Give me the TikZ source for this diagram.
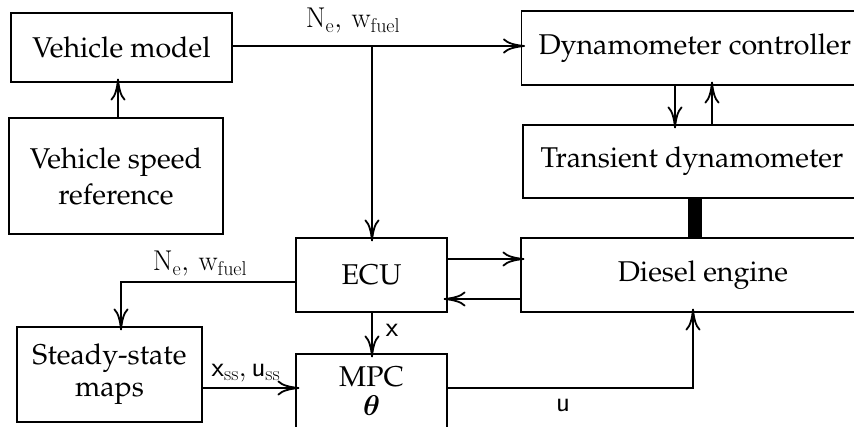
\RequirePackage{fix-cm}
\documentclass[tikz,border=0pt]{standalone}
\usepackage{amsmath,bm}
\usetikzlibrary{arrows.meta}
\IfFileExists{ot1ppl.fd}{\newcommand\mytextfont{\fontencoding{OT1}\fontfamily{ppl}\selectfont}}{\newcommand\mytextfont{}}
\begin{document}
\begin{tikzpicture}[x=1pt,y=1pt,
  every node/.style={font=\fontsize{28.6}{34}\selectfont\mytextfont},
  blk/.style={draw,line width=1.1pt,rectangle,inner sep=0pt,align=center},
  conn/.style={line width=1.1pt,-{Computer Modern Rightarrow[length=22pt,width=15pt,line width=1.8pt]},shorten >=-4pt},
  lbl/.style={inner sep=0pt}]
\clip (0,0) rectangle (854,-427);
\fill[white] (0,0) rectangle (854,-427);
% blocks
\node[blk,minimum width=221pt,minimum height=69pt] (vm) at (121.5,-47.5) {Vehicle model};
\node[blk,minimum width=214pt,minimum height=116pt] (vsr) at (116,-176) {Vehicle speed\\[2pt]reference};
\node[blk,minimum height=74pt,inner xsep=17pt,anchor=west] (dc) at (521,-48) {Dynamometer controller};
\node[blk,minimum width=338pt,minimum height=73pt] (td) at (692,-161.5) {Transient dynamometer};
\node[blk,minimum width=364pt,minimum height=74pt] (de) at (703,-275) {Diesel engine};
\node[blk,minimum width=151pt,minimum height=74pt] (ecu) at (371.5,-275) {ECU};
\node[blk,minimum width=151pt,minimum height=74pt] (mpc) at (371.5,-391) {MPC\\[-5pt]$\bm{\theta}$};
\node[blk,minimum width=185pt,minimum height=95pt] (ssm) at (109.5,-374.5) {Steady-state\\[-2pt]maps};
% helper coordinates
\coordinate (brx) at (372,-46);
\coordinate (dlx) at (675,0);
\coordinate (ulx) at (712,0);
\coordinate (barx) at (695,0);
\coordinate (ya) at (0,-259);
\coordinate (yb) at (0,-299);
\coordinate (yc) at (0,-282);
\coordinate (cx) at (121,0);
\coordinate (yd) at (0,-388);
\coordinate (ux) at (693,0);
\coordinate (vx) at (118,0);
% connectors
\draw[conn] (vx |- vsr.north) -- (vx |- vm.south);
\draw[conn] (vm.east |- brx) -- (dc.west |- brx);
\draw[conn] (brx) -- (brx |- ecu.north);
\draw[conn] (dlx |- dc.south) -- (dlx |- td.north);
\draw[conn] (ulx |- td.north) -- (ulx |- dc.south);
\draw[line width=14pt] (barx |- td.south) -- (barx |- de.north);
\draw[conn] (ecu.east |- ya) -- (de.west |- ya);
\draw[conn] (de.west |- yb) -- (ecu.east |- yb);
\draw[conn] (ecu.west |- yc) -| (cx |- ssm.north);
\draw[conn] (brx |- ecu.south) -- (brx |- mpc.north);
\draw[conn] (ssm.east |- yd) -- (mpc.west |- yd);
\draw[conn] (mpc.east |- yd) -| (ux |- de.south);
% labels
\node[lbl] (l1) at (353,-21) {$\mathrm{N_e},\, \mathrm{w_{fuel}}$};
\node[lbl] (l2) at (200,-264) {$\mathrm{N_e},\, \mathrm{w_{fuel}}$};
\node[lbl] (l3) at (392,-330) {$\mathsf{x}$};
\node[lbl] (l4) at (246,-373) {$\mathsf{x}_{\mathrm{ss}}, \mathsf{u}_{\mathrm{ss}}$};
\node[lbl] (l5) at (563,-405) {$\mathsf{u}$};
\end{tikzpicture}
\end{document}
